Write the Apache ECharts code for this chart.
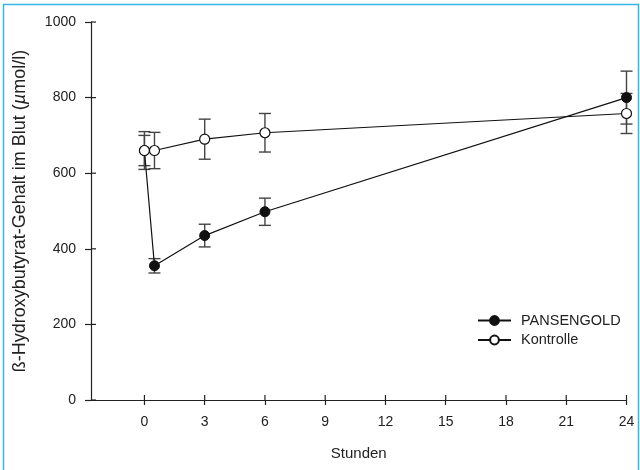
<!DOCTYPE html>
<html>
<head>
<meta charset="utf-8">
<script src="https://cdn.jsdelivr.net/npm/echarts@6/dist/echarts.min.js"></script>
<style>
html,body{margin:0;padding:0;background:#fff;}
#c{width:640px;height:470px;}
</style>
</head>
<body>
<div id="c"></div>
<script>
// Data
var hours = [0, 0.5, 3, 6, 24];
var pansengold = [660, 355, 435, 498, 800];
var pansengoldErr = [40, 19, 30, 36, 70];
var kontrolle = [660, 660, 690, 707, 758];
var kontrolleErr = [50, 48, 53, 51, 53];
var xTicks = [0, 3, 6, 9, 12, 15, 18, 21, 24];
var yTicks = [0, 200, 400, 600, 800, 1000];
var seriesNames = ['PANSENGOLD', 'Kontrolle'];

var FONT = '"Liberation Sans", Arial, sans-serif';
var INK = '#222';

function pairs(xs, ys) { return xs.map(function (x, i) { return [x, ys[i]]; }); }
function errs(xs, ys, es) { return xs.map(function (x, i) { return [x, ys[i] - es[i], ys[i] + es[i]]; }); }

function errorRender(params, api) {
  var x = api.value(0), lo = api.value(1), hi = api.value(2);
  var pLo = api.coord([x, lo]), pHi = api.coord([x, hi]);
  var hw = 6;
  var st = { stroke: '#444', lineWidth: 1.4 };
  return {
    type: 'group',
    children: [
      { type: 'line', shape: { x1: pLo[0], y1: pLo[1], x2: pHi[0], y2: pHi[1] }, style: st },
      { type: 'line', shape: { x1: pLo[0] - hw, y1: pLo[1], x2: pLo[0] + hw, y2: pLo[1] }, style: st },
      { type: 'line', shape: { x1: pHi[0] - hw, y1: pHi[1], x2: pHi[0] + hw, y2: pHi[1] }, style: st }
    ]
  };
}

var xMin = -2.66, xMax = 24;
var tickStyle = { stroke: INK, lineWidth: 1.2 };
// inner halves of the crossing axis ticks (outer halves come from the axes)
function tickInner(params, api) {
  var p = api.coord([api.value(0), api.value(1)]);
  var isX = api.value(2) === 1;
  return {
    type: 'line',
    shape: isX ? { x1: p[0], y1: p[1], x2: p[0], y2: p[1] - 5 }
               : { x1: p[0], y1: p[1], x2: p[0] + 5, y2: p[1] },
    style: tickStyle
  };
}
var tickData = xTicks.map(function (v) { return [v, 0, 1]; })
  .concat(yTicks.map(function (v) { return [xMin, v, 0]; }));

var chart = echarts.init(document.getElementById('c'), null, { renderer: 'canvas' });
chart.setOption({
  animation: false,
  backgroundColor: '#fff',
  graphic: [{
    type: 'rect', silent: true, z: 100,
    shape: { x: 3.5, y: 4.5, width: 635, height: 480 },
    style: { fill: null, stroke: '#3ab3e6', lineWidth: 1.5 }
  }],
  grid: { left: 91, right: 13.5, top: 22, bottom: 70, containLabel: false, outerBoundsMode: 'none' },
  legend: {
    left: 477, top: 313, orient: 'vertical', padding: 0,
    itemWidth: 33, itemHeight: 11, itemGap: 4.5,
    data: seriesNames,
    textStyle: { fontFamily: FONT, fontSize: 14.5, color: INK, padding: [0, 0, 0, 5] }
  },
  xAxis: {
    type: 'value', min: xMin, max: xMax, position: 'bottom',
    name: 'Stunden', nameLocation: 'middle', nameGap: 46,
    nameTextStyle: { fontFamily: FONT, fontSize: 15, color: INK },
    axisLine: { show: true, onZero: false, lineStyle: { color: INK, width: 1.2 } },
    axisTick: { show: true, length: 5, customValues: xTicks, lineStyle: { color: INK, width: 1.2 } },
    axisLabel: { show: true, customValues: xTicks, margin: 15, fontFamily: FONT, fontSize: 14, color: INK },
    splitLine: { show: false }
  },
  yAxis: {
    type: 'value', min: 0, max: 1000, interval: 200, position: 'left',
    name: '{a|ß-Hydroxybutyrat-Gehalt im Blut (}{i|µ}{a|mol/l)}',
    nameLocation: 'middle', nameGap: 62, nameRotate: 90,
    nameTextStyle: {
      fontFamily: FONT, fontSize: 18, color: INK,
      rich: {
        a: { fontFamily: FONT, fontSize: 18, color: INK },
        i: { fontFamily: FONT, fontSize: 18, color: INK, fontStyle: 'italic' }
      }
    },
    axisLine: { show: true, onZero: false, lineStyle: { color: INK, width: 1.2 } },
    axisTick: { show: true, length: 6, customValues: yTicks, lineStyle: { color: INK, width: 1.2 } },
    axisLabel: { show: true, margin: 15, customValues: yTicks, fontFamily: FONT, fontSize: 14, color: INK,
      formatter: function (v) { return String(v); } },
    splitLine: { show: false }
  },
  series: [{
    type: 'custom', name: 'ticksInner', renderItem: tickInner, z: 5, silent: true, clip: false,
    encode: { x: 0, y: 1 }, data: tickData
  }, {
    type: 'custom', name: 'errP', renderItem: errorRender, z: 1, silent: true,
    encode: { x: 0, y: [1, 2] },
    data: errs(hours, pansengold, pansengoldErr)
  }, {
    type: 'custom', name: 'errK', renderItem: errorRender, z: 1, silent: true,
    encode: { x: 0, y: [1, 2] },
    data: errs(hours, kontrolle, kontrolleErr)
  }, {
    type: 'line', name: seriesNames[0], z: 3,
    data: pairs(hours, pansengold),
    symbol: 'circle', symbolSize: 10, showAllSymbol: true,
    lineStyle: { color: '#111', width: 1.2 },
    itemStyle: { color: '#111', borderColor: '#111', borderWidth: 1 }
  }, {
    type: 'line', name: seriesNames[1], z: 4,
    data: pairs(hours, kontrolle),
    symbol: 'circle', symbolSize: 10, showAllSymbol: true,
    lineStyle: { color: '#111', width: 1.2 },
    itemStyle: { color: '#fff', borderColor: '#111', borderWidth: 1.2 }
  }]
});
</script>
</body>
</html>
